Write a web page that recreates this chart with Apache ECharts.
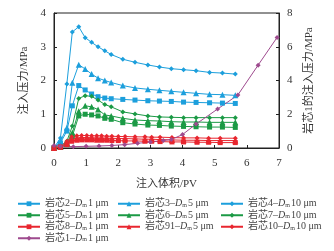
<!DOCTYPE html>
<html>
<head>
<meta charset="utf-8">
<script src="https://cdn.jsdelivr.net/npm/echarts@6/dist/echarts.min.js"></script>
<style>
  html, body { margin: 0; padding: 0; background: #fff; }
  #chart { width: 334px; height: 251px; }
</style>
</head>
<body>
<div id="chart"></div>
<script>
// injection volume (PV) sample points
const xMain = [0, 0.2, 0.4, 0.57, 0.77, 0.97, 1.17, 1.37, 1.58, 1.78, 2.14, 2.52, 2.92, 3.28, 3.65, 4.03, 4.42, 4.84, 5.24, 5.64];
const xRed = [0, 0.2, 0.4, 0.55, 0.71, 0.86, 1.02, 1.17, 1.33, 1.48, 1.64, 1.8, 2.0, 2.21, 2.52, 2.83, 3.04, 3.3, 3.67, 4.03, 4.45, 4.81, 5.17, 5.64];
const xCore1 = [0, 0.2, 0.6, 1.0, 1.4, 1.8, 2.2, 2.6, 3.0, 3.4, 3.65, 4.0, 4.42, 5.09, 5.72, 6.35, 6.94];

// pressure (MPa)
const core2 = [0, 0.15, 0.5, 1.25, 1.85, 1.72, 1.6, 1.52, 1.48, 1.46, 1.44, 1.42, 1.4, 1.39, 1.38, 1.36, 1.35, 1.34, 1.33, 1.32];
const core3 = [0, 0.2, 0.6, 1.93, 2.47, 2.34, 2.19, 2.07, 2.0, 1.94, 1.85, 1.78, 1.74, 1.71, 1.68, 1.65, 1.62, 1.59, 1.58, 1.56];
const core4 = [0, 0.3, 1.9, 3.44, 3.59, 3.27, 3.13, 3.0, 2.88, 2.77, 2.63, 2.54, 2.46, 2.4, 2.35, 2.32, 2.29, 2.24, 2.22, 2.19];
const core5 = [0, 0.02, 0.1, 0.35, 0.95, 1.0, 0.98, 0.95, 0.88, 0.85, 0.75, 0.71, 0.68, 0.67, 0.65, 0.64, 0.63, 0.62, 0.62, 0.61];
const core6 = [0, 0.03, 0.15, 0.45, 1.09, 1.25, 1.22, 1.14, 0.98, 0.95, 0.88, 0.83, 0.81, 0.8, 0.78, 0.77, 0.77, 0.76, 0.76, 0.76];
const core7 = [0, 0.05, 0.2, 0.65, 1.47, 1.55, 1.53, 1.42, 1.29, 1.22, 1.07, 1.01, 0.95, 0.92, 0.91, 0.9, 0.9, 0.9, 0.9, 0.9];
const core8 = [0, 0.03, 0.1, 0.2, 0.23, 0.24, 0.24, 0.24, 0.23, 0.23, 0.23, 0.22, 0.22, 0.21, 0.21, 0.2, 0.2, 0.19, 0.18, 0.18, 0.17, 0.17, 0.16, 0.16];
const core91 = [0, 0.04, 0.15, 0.27, 0.3, 0.31, 0.31, 0.3, 0.3, 0.3, 0.29, 0.29, 0.28, 0.28, 0.27, 0.26, 0.26, 0.25, 0.24, 0.23, 0.23, 0.22, 0.22, 0.22];
const core10 = [0, 0.05, 0.2, 0.33, 0.36, 0.37, 0.37, 0.36, 0.36, 0.36, 0.35, 0.35, 0.34, 0.34, 0.33, 0.33, 0.32, 0.32, 0.31, 0.3, 0.3, 0.29, 0.29, 0.29];
const core1 = [0.15, 0.1, 0.08, 0.1, 0.12, 0.15, 0.2, 0.28, 0.35, 0.45, 0.5, 0.8, 1.42, 2.31, 3.14, 4.91, 6.55];

const xTicks = [0, 1, 2, 3, 4, 5, 6, 7];

const BLUE = '#1C9FDC';
const GREEN = '#1B9A45';
const RED = '#E8262F';
const PURPLE = '#9E4A8E';
const SERIF = "'Liberation Serif', 'DejaVu Serif', 'Noto Sans CJK SC', serif";

const pair = (xs, ys) => xs.map((x, i) => [x, ys[i]]);

const seriesDefs = [
  { name: '岩芯2', size: '1 μm', color: BLUE, symbol: 'rect', xs: xMain, ys: core2 },
  { name: '岩芯3', size: '5 μm', color: BLUE, symbol: 'triangle', xs: xMain, ys: core3 },
  { name: '岩芯4', size: '10 μm', color: BLUE, symbol: 'diamond', xs: xMain, ys: core4 },
  { name: '岩芯5', size: '1 μm', color: GREEN, symbol: 'rect', xs: xMain, ys: core5 },
  { name: '岩芯6', size: '5 μm', color: GREEN, symbol: 'triangle', xs: xMain, ys: core6 },
  { name: '岩芯7', size: '10 μm', color: GREEN, symbol: 'diamond', xs: xMain, ys: core7 },
  { name: '岩芯8', size: '1 μm', color: RED, symbol: 'rect', xs: xRed, ys: core8 },
  { name: '岩芯91', size: '5 μm', color: RED, symbol: 'triangle', xs: xRed, ys: core91 },
  { name: '岩芯10', size: '10 μm', color: RED, symbol: 'diamond', xs: xRed, ys: core10 },
  { name: '岩芯1', size: '1 μm', color: PURPLE, symbol: 'diamond', xs: xCore1, ys: core1, right: true },
];

const sizeOf = {};
seriesDefs.forEach(d => { sizeOf[d.name] = d.size; });

const legendBase = {
  orient: 'vertical',
  top: 198,
  height: 53,
  padding: 0,
  itemWidth: 22,
  itemHeight: 6,
  itemGap: 0,
  textStyle: {
    fontFamily: SERIF,
    fontSize: 10,
    color: '#444',
    lineHeight: 11.5,
    rich: {
      it: { fontFamily: SERIF, fontStyle: 'italic', fontSize: 10, color: '#444', lineHeight: 11.5 },
      sub: { fontFamily: SERIF, fontSize: 6, color: '#444', lineHeight: 11.5, padding: [3, 1, 0, 0] },
    },
  },
  formatter: name => name + '–{it|D}{sub|m}' + sizeOf[name],
};

const axisCommon = {
  axisLine: { show: true, lineStyle: { color: '#222', width: 1 } },
  axisTick: { show: true, inside: true, length: 3, lineStyle: { color: '#222' } },
  axisLabel: { fontFamily: SERIF, fontSize: 11, color: '#333', margin: 8 },
  splitLine: { show: false },
};

const chart = echarts.init(document.getElementById('chart'));
chart.setOption({
  animation: false,
  grid: { left: 54, right: 55, top: 13, bottom: 103, show: true, borderColor: '#222', borderWidth: 1 },
  legend: [
    Object.assign({}, legendBase, { left: 17, data: ['岩芯2', '岩芯5', '岩芯8', '岩芯1'] }),
    Object.assign({}, legendBase, { left: 117, data: ['岩芯3', '岩芯6', '岩芯91'] }),
    Object.assign({}, legendBase, { left: 220, data: ['岩芯4', '岩芯7', '岩芯10'] }),
  ],
  xAxis: Object.assign({}, axisCommon, {
    type: 'value',
    min: xTicks[0],
    max: xTicks[xTicks.length - 1],
    interval: 1,
    axisLabel: { fontFamily: SERIF, fontSize: 11, color: '#333', margin: 10 },
    name: '注入体积/PV',
    nameLocation: 'middle',
    nameGap: 31,
    nameTextStyle: { fontFamily: SERIF, fontSize: 11, color: '#333' },
  }),
  yAxis: [
    Object.assign({}, axisCommon, {
      type: 'value',
      min: 0,
      max: 4,
      interval: 1,
      name: '注入压力/MPa',
      nameLocation: 'middle',
      nameGap: 24,
      nameTextStyle: { fontFamily: SERIF, fontSize: 11, color: '#333' },
    }),
    Object.assign({}, axisCommon, {
      type: 'value',
      position: 'right',
      min: 0,
      max: 8,
      interval: 2,
      name: '岩芯1的注入压力/MPa',
      nameLocation: 'middle',
      nameGap: 25,
      nameRotate: 90,
      nameTextStyle: { fontFamily: SERIF, fontSize: 11, color: '#333' },
    }),
  ],
  series: seriesDefs.map(d => ({
    name: d.name,
    type: 'line',
    yAxisIndex: d.right ? 1 : 0,
    data: pair(d.xs, d.ys),
    symbol: d.symbol,
    symbolSize: d.symbol === 'triangle' ? 6 : 5,
    showAllSymbol: true,
    color: d.color,
    lineStyle: { width: 1, color: d.color },
    itemStyle: { color: d.color },
  })),
});
</script>
</body>
</html>
